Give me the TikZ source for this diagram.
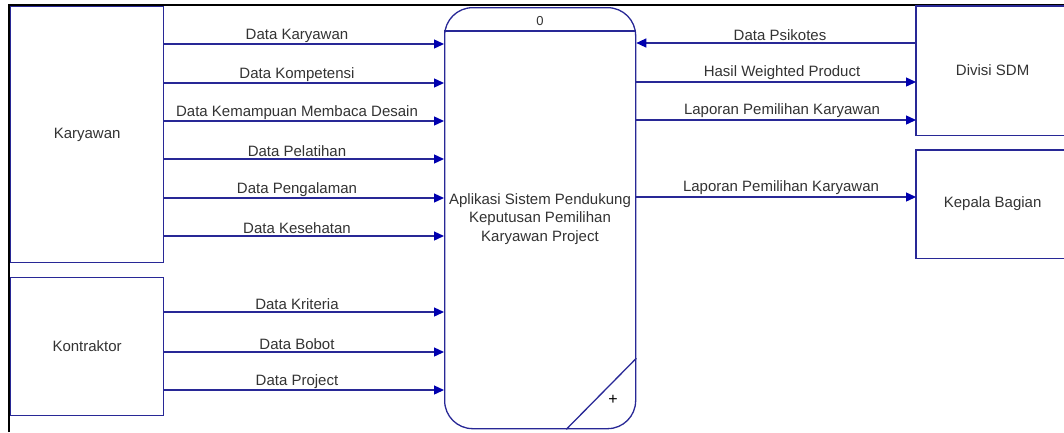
\documentclass[tikz,border=0pt]{standalone}
\usepackage{fontspec}
\setmainfont{Liberation Sans}
\usetikzlibrary{arrows.meta,calc}
\definecolor{lineblue}{RGB}{40,40,150}
\definecolor{tipblue}{RGB}{0,0,175}
\definecolor{txt}{RGB}{51,51,51}
\begin{document}
\begin{tikzpicture}[x=1pt,y=-1pt,
  ent/.style={draw=lineblue, line width=1.2pt, inner sep=0pt, anchor=north west, text=txt, font=\fontsize{15}{18}\selectfont},
  flow/.style={draw=lineblue, line width=1.3pt, -{Triangle[length=10pt,width=9pt,fill=tipblue,color=tipblue]}},
  lbl/.style={text=txt, inner sep=0pt, font=\fontsize{15}{18}\selectfont},
  frame/.style={draw=black, line width=2pt}]
\useasboundingbox (0,0) rectangle (1064,432);
\fill[white] (0,0) rectangle (1064,432);
% frame
\draw[frame] (9,432) -- (9,5) -- (1064,5);
% entities
\node[ent, minimum width=153pt, minimum height=256pt] (kar) at (10,6) {Karyawan};
\node[ent, minimum width=153pt, minimum height=138pt] (kon) at (10,277) {Kontraktor};
\node[ent, draw=none, minimum width=152pt, minimum height=128pt] (sdm) at (916,6) {Divisi SDM};
\node[ent, draw=none, minimum width=152pt, minimum height=107pt] (kb) at (916,150) {Kepala Bagian};
\draw[lineblue, line width=1.2pt] (sdm.north east) -- (sdm.north west) -- (sdm.south west) -- (sdm.south east);
\draw[lineblue, line width=1.2pt] (kb.north east) -- (kb.north west) -- (kb.south west) -- (kb.south east);
% process
\node[draw=lineblue, line width=1.3pt, rounded corners=28pt, inner sep=0pt, anchor=north west,
      minimum width=191pt, minimum height=421pt] (proc) at (444,7) {};
\draw[lineblue, line width=1.3pt] ($(proc.north west)+(0,24)$) -- ($(proc.north east)+(0,24)$);
\node[lbl, font=\fontsize{13}{15}\selectfont] (pid) at (540,21) {0};
\node[lbl, align=center, font=\fontsize{15}{18.5}\selectfont] (ptxt) at (540,219)
  {Aplikasi Sistem Pendukung\\Keputusan Pemilihan\\Karyawan Project};
\draw[lineblue, line width=1.3pt] ($(proc.south east)+(-70,0)$) -- ($(proc.south east)+(0,-71)$);
\node[lbl, text=black, font=\fontsize{16}{18}\selectfont] (plus) at (613,400) {+};
% coordinates for flow heights
\foreach \n/\y in {a/44,b/83,c/121,d/159,e/198,f/236,g/312,h/352,i/390,j/43,k/82,l/120,m/197}
  \coordinate (y\n) at (0,\y);
% left flows
\draw[flow] (kar.east |- ya) -- (proc.west |- ya) node[lbl] at (297,36) {Data Karyawan};
\draw[flow] (kar.east |- yb) -- (proc.west |- yb) node[lbl] at (297,75) {Data Kompetensi};
\draw[flow] (kar.east |- yc) -- (proc.west |- yc) node[lbl] at (297,113) {Data Kemampuan Membaca Desain};
\draw[flow] (kar.east |- yd) -- (proc.west |- yd) node[lbl] at (297,151) {Data Pelatihan};
\draw[flow] (kar.east |- ye) -- (proc.west |- ye) node[lbl] at (297,190) {Data Pengalaman};
\draw[flow] (kar.east |- yf) -- (proc.west |- yf) node[lbl] at (297,228) {Data Kesehatan};
\draw[flow] (kon.east |- yg) -- (proc.west |- yg) node[lbl] at (297,304) {Data Kriteria};
\draw[flow] (kon.east |- yh) -- (proc.west |- yh) node[lbl] at (297,344) {Data Bobot};
\draw[flow] (kon.east |- yi) -- (proc.west |- yi) node[lbl] at (297,382) {Data Project};
% right flows
\draw[flow] (sdm.west |- yj) -- (proc.east |- yj) node[lbl] at (780,35) {Data Psikotes};
\draw[flow] (proc.east |- yk) -- (sdm.west |- yk) node[lbl] at (782,73) {Hasil Weighted Product};
\draw[flow] (proc.east |- yl) -- (sdm.west |- yl) node[lbl] at (782,111) {Laporan Pemilihan Karyawan};
\draw[flow] (proc.east |- ym) -- (kb.west |- ym) node[lbl] at (781,188) {Laporan Pemilihan Karyawan};
\end{tikzpicture}
\end{document}
